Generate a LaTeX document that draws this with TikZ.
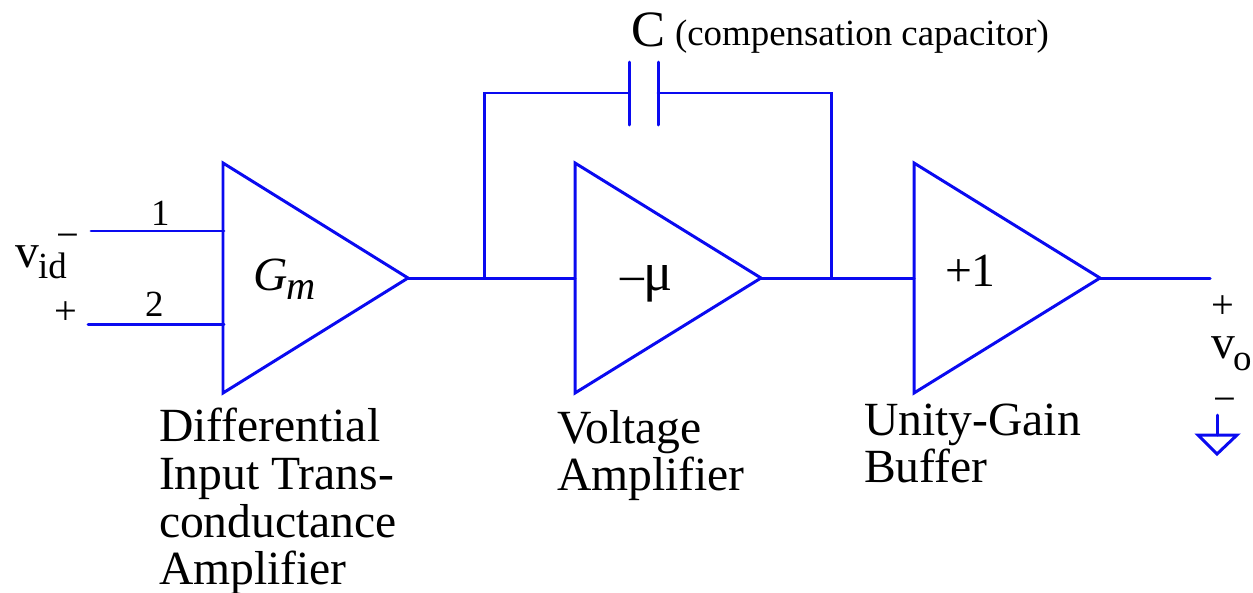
\documentclass[tikz,border=0pt]{standalone}
\usepackage{fontspec}
\setmainfont{Liberation Serif}
\usetikzlibrary{positioning}
\usetikzlibrary{calc}

\begin{document}
\begin{tikzpicture}[x=0.02cm, y=-0.02cm, semithick]
\tikzstyle{wire}=[draw=wireblue, line width=1.7pt, line cap=round, line join=miter]
\tikzstyle{lbl}=[inner sep=0pt, outer sep=0pt, anchor=base west, text=black]
\tikzstyle{big}=[lbl, font=\fontsize{27.1}{27.1}\selectfont]
\tikzstyle{sub}=[lbl, font=\fontsize{21}{21}\selectfont]
\tikzstyle{small}=[lbl, font=\fontsize{21}{21}\selectfont]
\tikzstyle{sign}=[lbl, font=\fontsize{23}{23}\selectfont]
\definecolor{wireblue}{RGB}{10,10,240}
\useasboundingbox (0,0) rectangle (1253,592);

% amplifiers
\coordinate (gmtop) at (223,163);
\coordinate (gmbot) at (223,393);
\coordinate (gmout) at (408,278);
\coordinate (mutop) at (575,163);
\coordinate (mubot) at (575,393);
\coordinate (muout) at (761,278);
\coordinate (bftop) at (914,163);
\coordinate (bfbot) at (914,393);
\coordinate (bfout) at (1100,278);
\draw[wire] (gmtop) -- (gmout) -- (gmbot) -- cycle;
\draw[wire] (mutop) -- (muout) -- (mubot) -- cycle;
\draw[wire] (bftop) -- (bfout) -- (bfbot) -- cycle;

% inputs
\coordinate (in1) at (91,231);
\coordinate (in1e) at (224,231);
\coordinate (in2) at (88,324);
\coordinate (in2e) at (224,324);
\draw[wire] (in1) -- (in1e);
\draw[wire] (in2) -- (in2e);

% signal path
\coordinate (muin) at (575,278);
\coordinate (bfin) at (914,278);
\coordinate (vout) at (1210,278);
\coordinate (fbl) at (484,278);
\coordinate (fbr) at (831,278);
\draw[wire] (gmout) -- (muin);
\draw[wire] (muout) -- (bfin);
\draw[wire] (bfout) -- (vout);

% compensation capacitor
\coordinate (capl) at (629,93);
\coordinate (capr) at (658,93);
\draw[wire] (fbl) |- (capl);
\draw[wire] (fbr) |- (capr);
\draw[wire] (629,62) -- (629,125);
\draw[wire] (658,62) -- (658,125);

% ground
\coordinate (gndtop) at (1217,415);
\coordinate (gndmid) at (1217,435);
\draw[wire] (gndtop) -- (gndmid);
\draw[wire] (1198,435) -- (1237,435) -- (1217,454) -- cycle;

% labels
\node[big] (gm) at (253,290) {\textit{G}};
\node[sub, font=\fontsize{23}{23}\selectfont\itshape] (gmsub) at (286,299) {m};
\node[big] (mu) at (620,290) {–{\fontsize{31}{31}\selectfont μ}};
\node[big] (plus1) at (945,286) {+1};
\node[lbl, font=\fontsize{29}{29}\selectfont] (cname) at (631,46) {C};
\node[small] (cnote) at (675,45) {(compensation capacitor)};

\node[big] (d1) at (159,441) {Differential};
\node[big] (d2) at (159,489) {Input Trans-};
\node[big] (d3) at (159,537) {conductance};
\node[big] (d4) at (159,584) {Amplifier};
\node[big] (v1) at (557,443) {Voltage};
\node[big] (v2) at (557,490) {Amplifier};
\node[big] (u1) at (864,435) {Unity-Gain};
\node[big] (u2) at (864,482) {Buffer};

\node[small] (one) at (151,225) {1};
\node[small] (two) at (145,316) {2};
\node[big] (vid) at (15,267) {v};
\node[sub] (idsub) at (38,278) {id};
\node[sign] (vidm) at (56,248) {−};
\node[sign] (vidp) at (54,324) {+};
\node[big] (vo) at (1211,358) {v};
\node[sub] (osub) at (1233,370) {o};
\node[sign] (vop) at (1211,318) {+};
\node[sign] (vom) at (1213,412) {−};
\end{tikzpicture}
\end{document}
